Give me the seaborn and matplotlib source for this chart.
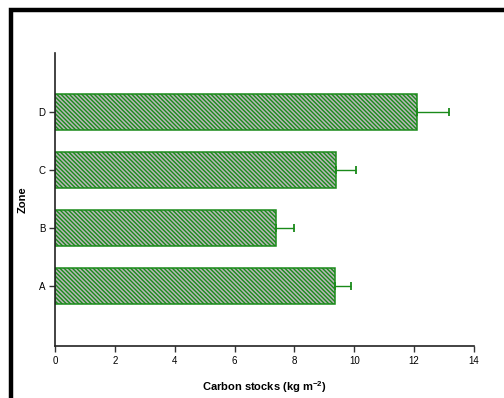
import matplotlib
matplotlib.use("Agg")
import matplotlib.pyplot as plt
import seaborn as sns
import pandas as pd
import numpy as np
from matplotlib.patches import Rectangle

zones = ["D", "C", "B", "A"]
carbon = [12.10, 9.40, 7.39, 9.35]
err = [1.05, 0.65, 0.59, 0.53]
xticks = [0, 2, 4, 6, 8, 10, 12, 14]

sns.set_theme(style="ticks")
plt.rcParams['font.family'] = ['Liberation Sans', 'DejaVu Sans']
plt.rcParams['hatch.linewidth'] = 1.0
plt.rcParams['text.color'] = 'black'
plt.rcParams['axes.labelcolor'] = 'black'
plt.rcParams['xtick.labelcolor'] = 'black'
plt.rcParams['ytick.labelcolor'] = 'black'

df = pd.DataFrame({"Zone": zones, "Carbon": carbon})

fig = plt.figure(figsize=(5.04, 3.98), dpi=100)
ax = fig.add_axes([55/504, 1-346/398, 419/504, 293/398])

green = "#1a8a1a"
hatch = "\\" * 8
sns.barplot(data=df, x="Carbon", y="Zone", order=zones, orient="h",
            color="#b8b8b8", edgecolor=green, linewidth=1.1,
            width=0.62, errorbar=None, ax=ax, hatch=hatch)
for p in ax.patches:
    p.set_facecolor("#b8b8b8")
    p.set_edgecolor(green)
    p.set_hatch(hatch)

ypos = np.arange(len(zones))
ax.errorbar(carbon, ypos, xerr=[np.zeros(len(err)), err], fmt="none",
            ecolor=green, elinewidth=1.0, capsize=3, capthick=1.3)

ax.set_xlim(0, 14)
ax.set_ylim(3 + 1.03, -1.02)
ax.set_xticks(xticks)
ax.set_xticklabels([str(t) for t in xticks])
ax.tick_params(axis="both", labelsize=7, length=4, width=1, color="#333333",
               labelcolor="black", pad=3)
ax.set_xlabel("Carbon stocks (kg m$^{\\mathregular{-2}}$)", fontsize=8, fontweight="bold",
              labelpad=10, color="black")
ax.set_ylabel("Zone", fontsize=8, fontweight="bold", labelpad=8, color="black")
sns.despine(ax=ax)
for s in ["left", "bottom"]:
    ax.spines[s].set_color("#222222")
    ax.spines[s].set_linewidth(1.2)

fig.patches.append(Rectangle((10.5/504, -0.1), 1.2, 1 - 10.5/398 + 0.1,
                             transform=fig.transFigure, fill=False,
                             edgecolor="black", linewidth=3.2))

fig.savefig("out.png", dpi=100)
